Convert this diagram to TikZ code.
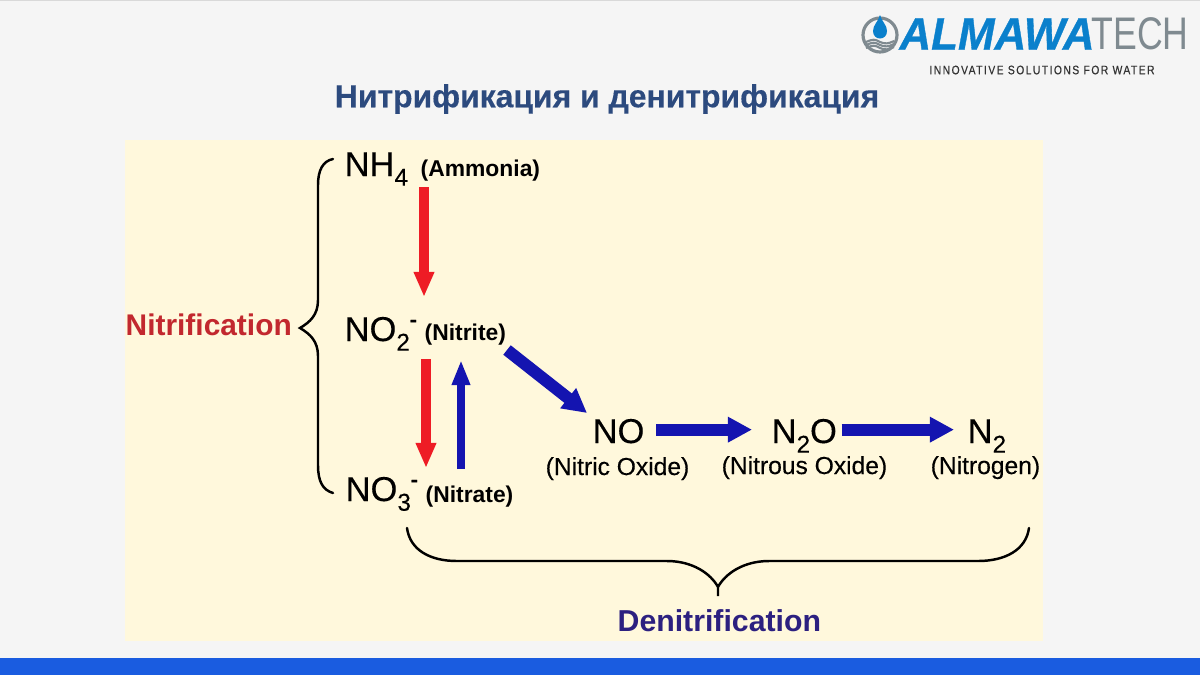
\documentclass[tikz,border=0pt]{standalone}
\usepackage{fontspec}
\setmainfont{Liberation Sans}
\usetikzlibrary{arrows.meta}
\definecolor{slidegray}{HTML}{F5F5F5}
\definecolor{cream}{HTML}{FFF8DC}
\definecolor{barblue}{HTML}{1A5CE0}
\definecolor{titleblue}{HTML}{2C4A7E}
\definecolor{arrowred}{HTML}{EE1C25}
\definecolor{arrowblue}{HTML}{1414B0}
\definecolor{nitred}{HTML}{C2282E}
\definecolor{denitblue}{HTML}{2C2080}
\definecolor{logoblue}{HTML}{0A80CC}
\definecolor{logogray}{HTML}{7F8A90}
\newcommand{\lowr}[1]{\raisebox{-.28em}{\fontsize{6.9}{9}\selectfont #1}}
\newcommand{\highr}{\raisebox{.42em}{\fontsize{6}{7}\selectfont\bfseries -}}
\tikzset{
  formula/.style={anchor=base west,inner sep=0pt,text height=7.6pt,text depth=0pt,font=\fontsize{9.8}{12}\selectfont\addfontfeatures{FakeBold=.3}},
  leftname/.style={anchor=base west,inner sep=0pt,font=\fontsize{6.5}{8}\selectfont\bfseries},
  rightname/.style={anchor=base west,inner sep=0pt,font=\fontsize{7}{9}\selectfont\addfontfeatures{FakeBold=.3}},
  redarrow/.style={-{Triangle[length=.25cm,width=.19cm]},arrowred,line width=.1cm},
  bluearrow/.style={-{Triangle[length=.24cm,width=.24cm]},arrowblue,line width=.12cm},
  thinblue/.style={-{Triangle[length=.25cm,width=.17cm]},arrowblue,line width=.08cm},
  bracket/.style={black,line width=.7pt,line cap=round},
}
\begin{document}
\begin{tikzpicture}[x=0.01cm,y=-0.01cm]
  \useasboundingbox (0,0) rectangle (1200,675);
  \fill[slidegray] (0,0) rectangle (1200,675);
  \fill[black!15] (0,0) rectangle (1200,1);
  \fill[cream] (125,140) rectangle (1043,641);
  \fill[barblue] (0,658) rectangle (1200,675);
  % logo
  \draw[logogray,line width=.9pt] (880,35) circle (17);
  \fill[logoblue] (880,15) .. controls (878,22) and (873,25) .. (873,31) .. controls (873,41) and (887,41) .. (887,31) .. controls (887,25) and (882,22) .. (880,15);
  \foreach \h in {42,45,48}
    \draw[logogray,line width=.6pt] (866,\h) .. controls (873,\h-3) and (875,\h-3) .. (880,\h) .. controls (885,\h+2) and (888,\h+2) .. (894,\h-1);
  \draw
    (607,99) node (title){\fontsize{9.07}{12}\selectfont\bfseries\addfontfeatures{FakeBold=.3}\color{titleblue}Нитрификация и денитрификация}
    (997,34) node[xscale=.96] (almawa){\fontsize{13}{15}\selectfont\bfseries\itshape\addfontfeatures{FakeBold=.8}\color{logoblue}ALMAWA}
    (1140,34) node[xscale=.78] (tech){\fontsize{13}{15}\selectfont\color{logogray}TECH}
    (1042,70) node[xscale=.84] (slogan){\fontsize{3.5}{5}\selectfont\addfontfeatures{LetterSpace=14,FakeBold=.5}\color{black!80}INNOVATIVE SOLUTIONS FOR WATER};
  % compounds
  \draw
    (344,176) node[formula] (nh4){NH\lowr{4}}
    (344,341) node[formula] (no2){NO\lowr{2}\highr}
    (345,501) node[formula] (no3){NO\lowr{3}\highr}
    (592,443) node[formula] (no){NO}
    (771,443) node[formula] (n2o){N\lowr{2}O}
    (967,443) node[formula] (n2){N\lowr{2}}
    (420,176) node[leftname] (ammonia){(Ammonia)}
    (424,340) node[leftname] (nitrite){(Nitrite)}
    (425,502) node[leftname] (nitrate){(Nitrate)}
    (545,475) node[rightname] (nitric){(Nitric Oxide)}
    (721,474) node[rightname] (nitrous){(Nitrous Oxide)}
    (930,474) node[rightname] (nitrogen){(Nitrogen)}
    (125,335) node[anchor=base west,inner sep=0pt] (nitrification){\fontsize{8.5}{10}\selectfont\bfseries\color{nitred}Nitrification}
    (617,631) node[anchor=base west,inner sep=0pt] (denitrification){\fontsize{8.6}{10}\selectfont\bfseries\color{denitblue}Denitrification};
  \coordinate (a1) at (424,187);
  \coordinate (a2) at (424,297);
  \coordinate (b1) at (426,359);
  \coordinate (b2) at (426,468);
  \coordinate (c1) at (461,469);
  \coordinate (c2) at (461,360);
  \coordinate (d1) at (507,350);
  \coordinate (d2) at (587,413);
  \begin{scope}
    \draw[redarrow] (a1) to (a2);
    \draw[redarrow] (b1) to (b2);
    \draw[thinblue] (c1) to (c2);
    \draw[bluearrow] (d1) to (d2);
    \draw[bluearrow,shorten <=.11cm,shorten >=.19cm] (no) to (n2o);
    \draw[bluearrow,shorten <=.04cm,shorten >=.13cm] (n2o) to (n2);
  \end{scope}
  % braces
  \draw[bracket] (333,159) .. controls (323,161) and (318,170) .. (318,185) -- (318,300)
    .. controls (318,315) and (310,322) .. (300,328) .. controls (310,334) and (318,341) .. (318,356)
    -- (318,465) .. controls (318,482) and (323,490) .. (333,493);
  \draw[bracket] (407,528) .. controls (410,550) and (430,561) .. (457,561) -- (667,561)
    .. controls (693,561) and (711,574) .. (718,587) -- (718,596) -- (718,587)
    .. controls (725,574) and (743,561) .. (769,561)
    -- (978,561) .. controls (1005,561) and (1026,550) .. (1029,528);
\end{tikzpicture}
\end{document}
